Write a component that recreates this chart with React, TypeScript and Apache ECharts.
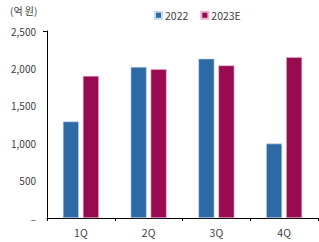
import React, { useEffect, useRef } from "react";
import * as echarts from "echarts";

const categories = ["1Q", "2Q", "3Q", "4Q"];
const series2022 = [1290, 2020, 2130, 995];
const series2023E = [1900, 1990, 2040, 2150];
const yTicks = [0, 500, 1000, 1500, 2000, 2500];

const FONT = "'Noto Sans CJK KR', 'Noto Sans', sans-serif";

export default function App() {
  const ref = useRef<HTMLDivElement>(null);
  useEffect(() => {
    if (!ref.current) return;
    const chart = echarts.init(ref.current, null, { renderer: "svg" });
    chart.setOption({
      animation: false,
      textStyle: { fontFamily: FONT },
      grid: { left: 47, right: 1, top: 31, bottom: 24 },
      legend: {
        top: 5,
        left: 149,
        itemWidth: 7,
        itemHeight: 7,
        itemGap: 12,
        icon: "rect",
        textStyle: { fontSize: 10.5, color: "#404040", fontFamily: FONT, padding: [0, 0, 0, -2] },
        data: ["2022", "2023E"],
      },
      graphic: [
        {
          type: "text",
          left: 10,
          top: 5,
          style: { text: "(억 원)", fontSize: 10, fill: "#404040", fontFamily: FONT },
        },
        {
          type: "line",
          shape: { x1: 43, y1: 31.5, x2: 47, y2: 31.5 },
          style: { stroke: "#000", lineWidth: 1 },
        },
      ],
      xAxis: {
        type: "category",
        data: categories,
        axisLine: { lineStyle: { color: "#000" } },
        axisTick: { show: true, length: 3, lineStyle: { color: "#000" } },
        axisLabel: { color: "#404040", fontSize: 10.5, margin: 9 },
      },
      yAxis: {
        type: "value",
        min: yTicks[0],
        max: yTicks[yTicks.length - 1],
        interval: 500,
        axisLine: { show: true, lineStyle: { color: "#000" } },
        axisTick: { show: false },
        splitLine: { show: false },
        axisLabel: {
          color: "#404040",
          fontSize: 10,
          margin: 11,
          formatter: (v: number) => (v === 0 ? "–" : v.toLocaleString("en-US")),
        },
      },
      series: [
        {
          name: "2022",
          type: "bar",
          data: series2022,
          barWidth: 16,
          barGap: "25%",
          itemStyle: { color: "#2C69A5", borderColor: "#C9D8EA", borderWidth: 0.6 },
        },
        {
          name: "2023E",
          type: "bar",
          data: series2023E,
          barWidth: 16,
          itemStyle: { color: "#990B50", borderColor: "#E6B8CC", borderWidth: 0.6 },
        },
      ],
    });
    return () => chart.dispose();
  }, []);
  return <div ref={ref} style={{ width: 319, height: 242, position: "absolute", left: 0, top: 0 }} />;
}
